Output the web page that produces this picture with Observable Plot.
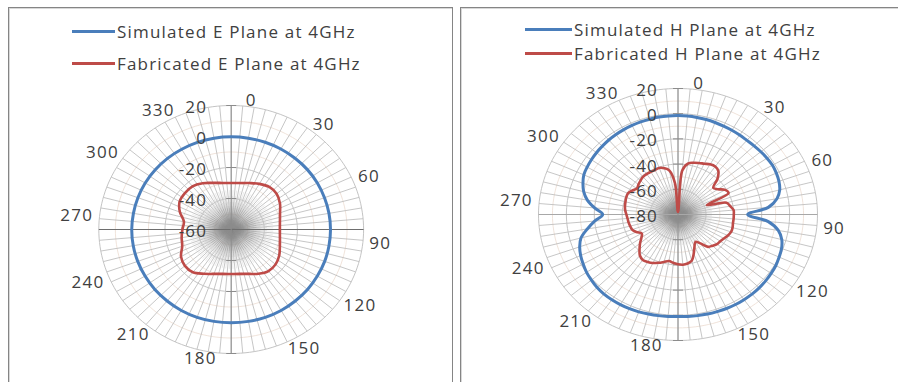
<!DOCTYPE html>
<html>
<head>
<meta charset="utf-8">
<script src="https://cdn.jsdelivr.net/npm/d3@7"></script>
<script src="https://cdn.jsdelivr.net/npm/@observablehq/plot@0.6"></script>
<style>
  html, body { margin: 0; padding: 0; background: #fff; }
  body { width: 898px; height: 382px; overflow: hidden; position: relative; font-family: "Open Sans", sans-serif; }
  .panel { position: absolute; top: 7px; height: 392px; border: 1px solid #858585; box-sizing: border-box; box-shadow: inset 1px 1px 0 #d8d8d8; background: #fff; }
  .leg { position: absolute; display: flex; align-items: center; height: 20px; font-size: 17px; letter-spacing: 1.2px; color: #404040; white-space: nowrap; }
  .sw { display: inline-block; height: 3px; margin-right: 2px; }
  .chart { position: absolute; top: 80px; }
  .chart svg { display: block; overflow: visible; }
</style>
</head>
<body>
<div class="panel" style="left:8px;width:445px"></div>
<div class="panel" style="left:460px;width:445px"></div>
<div id="legE1" class="leg" style="left:72px;top:21px"></div>
<div id="legE2" class="leg" style="left:72px;top:53px"></div>
<div id="legH1" class="leg" style="left:525px;top:19px"></div>
<div id="legH2" class="leg" style="left:525px;top:43px"></div>
<div id="chartE" class="chart" style="left:9px"></div>
<div id="chartH" class="chart" style="left:461px"></div>
<script>
// ---------- data ----------
const ANGLE_TICKS = [0, 30, 60, 90, 120, 150, 180, 210, 240, 270, 300, 330];
const E_RTICKS = [20, 0, -20, -40, -60];
const H_RTICKS = [20, 0, -20, -40, -60, -80];

const E_ANGLES = [0,10,20,30,40,50,60,70,80,90,100,110,120,130,140,150,160,170,
                  180,190,200,210,220,230,240,250,260,270,280,290,300,310,320,330,340,350];
const E_SIM = [-0.2,-0.2,-0.1,0,0,0.1,0.1,0,0,0,0,0.1,0.1,0.2,0.2,0.3,0.3,0.2,
               0.2,0.2,0.3,0.3,0.2,0.2,0.1,0.1,0.1,0.1,0,0,0,-0.1,-0.1,-0.2,-0.2,-0.2];
const E_FAB = [-30,-29.5,-28.1,-26,-24.2,-24.2,-26,-28.6,-30.1,-30.6,-30.1,-28.7,-26.5,-25,-25,-27,-29.5,-30.9,
               -31.3,-30.9,-29.5,-27,-24,-23.5,-25,-28.5,-29.6,-30.5,-31,-27,-24,-23.5,-23.6,-25.5,-28,-29.5];

const H_ANGLES = [0,5,10,15,20,25,30,35,40,45,50,55,60,65,70,75,80,85,
                  90,95,100,105,110,115,120,125,130,135,140,145,150,155,160,165,170,175,
                  180,185,190,195,200,205,210,215,220,225,230,235,240,245,250,255,260,265,
                  270,275,280,285,290,295,300,305,310,315,320,325,330,335,340,345,350,355];
const H_SIM = [-1.5,-1.6,-1.8,-2,-2.3,-2.6,-2.8,-3,-3.2,-2.9,-2.5,-2.1,-1.8,-2.2,-3,-4.5,-8,-15,
               -30,-15,-7,-3,-1,0,1,1.5,2,2.3,2.5,2.5,2.5,2.3,2,1.8,1.5,1.2,
               1,1.2,1.5,1.8,2.2,2.4,2.6,2.6,2.5,2,1,0,-1.5,-3,-5,-8,-14,-20,
               -26,-20,-14,-10,-7.5,-5.5,-4.8,-4.2,-3.7,-3.3,-2.8,-2.5,-2.2,-2,-1.8,-1.7,-1.5,-1.5];
const H_FAB = [-78,-45,-39,-37.5,-36.5,-35.5,-34,-33.5,-35,-40,-47,-45,-41,-40,-58,-44,-42,-40,
               -40,-40,-40,-39.5,-39.5,-40.5,-42,-43,-43.5,-45,-46.5,-52,-55,-52,-47,-42,-40.5,-40,
               -40.5,-41.5,-42.5,-41,-39.2,-37.5,-36.5,-36,-37.5,-41,-44.5,-48,-50,-47,-45,-44.5,-44,-43.7,
               -43,-42,-41.4,-41,-40.5,-40.4,-42,-44,-43,-42,-41,-40.8,-41,-41,-40.7,-42,-44.6,-55];

const BLUE = "#4A7EBB", RED = "#BE4B48";
const FONT = "'Open Sans', sans-serif";

// ---------- legends ----------
function legend(id, color, w, label) {
  const el = document.getElementById(id);
  const sw = document.createElement("span");
  sw.className = "sw"; sw.style.width = w + "px"; sw.style.background = color;
  el.appendChild(sw);
  el.appendChild(document.createTextNode(label));
}
legend("legE1", BLUE, 43, "Simulated E Plane at 4GHz");
legend("legE2", RED, 43, "Fabricated E Plane at 4GHz");
legend("legH1", BLUE, 47, "Simulated H Plane at 4GHz");
legend("legH2", RED, 47, "Fabricated H Plane at 4GHz");

// ---------- polar panel ----------
function polarPanel(o) {
  const R = o.rmax - o.rmin;
  const rad = a => a * Math.PI / 180;
  const P = (a, v) => ({x: (v - o.rmin) * Math.sin(rad(a)), y: (v - o.rmin) * Math.cos(rad(a))});
  const kx = o.rx / R; // px per unit

  // grid rings
  const ringVals = o.rticks.filter(v => v > o.rmin);
  const ringPts = [];
  for (const v of ringVals) for (let a = 0; a <= 360; a += 2) ringPts.push({...P(a, v), v});
  const minorVals = ringVals.map(v => v - 10).filter(v => v > o.rmin);
  const minorPts = [];
  for (const v of minorVals) for (let a = 0; a <= 360; a += 2) minorPts.push({...P(a, v), v});

  // spokes (every 5 deg) and dense inner spokes of mixed length that build the soft grey hub
  const spokes = d3.range(0, 360, 5).map(a => ({a, ...P(a, o.rmax)}));
  const hubLens = [0.15, 0.55, 0.3, 0.85, 0.45, 1.0, 0.25, 0.7, 0.4, 0.6];
  const hub = d3.range(0, 360, 0.5).map((a, i) => ({a, ...P(a, o.rmin + o.hub * hubLens[i % hubLens.length] / kx)}));

  // series
  const series = o.series.map(s => s.values.map((v, i) => ({...P(o.angles[i], v), name: s.name})));

  // angle labels
  const off = o.labelPad / kx;
  const lab = ANGLE_TICKS.map(a => ({a, ...P(a + 6, o.rmax + off)}));

  // radial labels + ticks
  const rl = o.rticks.map(v => ({v, x: -o.rlabDx / kx, y: v - o.rmin}));
  const th = 5 / kx;
  const tk = [];
  for (const v of o.rticks.filter(v => v > o.rmin)) {
    tk.push({x1: -th, x2: th, y: v - o.rmin});
    tk.push({x1: -th, x2: th, y: -(v - o.rmin)});
  }

  return Plot.plot({
    width: o.width, height: o.height, margin: 0,
    style: {fontFamily: FONT, fontSize: "17px", color: "#404040", background: "transparent", overflow: "visible"},
    x: {domain: [-R, R], range: [o.cx - o.rx, o.cx + o.rx], axis: null},
    y: {domain: [-R, R], range: [o.cy + o.ry, o.cy - o.ry], axis: null},
    marks: [
      Plot.line(minorPts, {x: "x", y: "y", z: "v", stroke: "#ecdcd0", strokeWidth: 0.8}),
      Plot.link(spokes, {x1: 0, y1: 0, x2: "x", y2: "y", stroke: "#b8b8b8", strokeWidth: 0.8}),
      Plot.link(hub, {x1: 0, y1: 0, x2: "x", y2: "y", stroke: "#8a8a8a", strokeWidth: 0.5, strokeOpacity: 0.35}),
      Plot.line(ringPts, {x: "x", y: "y", z: "v", stroke: "#c4c4c4", strokeWidth: 1}),
      Plot.link([{x1: -R, x2: R}], {x1: "x1", x2: "x2", y1: 0, y2: 0, stroke: o.hAxis, strokeWidth: 1}),
      Plot.link([{y1: -R, y2: R}], {x1: 0, x2: 0, y1: "y1", y2: "y2", stroke: "#8c8c8c", strokeWidth: 1}),
      Plot.link(tk, {x1: "x1", x2: "x2", y1: "y", y2: "y", stroke: "#8c8c8c", strokeWidth: 1}),
      ...series.map((s, i) => Plot.line(s, {x: "x", y: "y", curve: "catmull-rom-closed",
        stroke: o.series[i].color, strokeWidth: o.series[i].width})),
      Plot.text(lab.filter(d => d.a < 180), {x: "x", y: "y", text: d => String(d.a), textAnchor: "start", fill: "#404040", fontSize: 17}),
      Plot.text(lab.filter(d => d.a >= 180), {x: "x", y: "y", text: d => String(d.a), textAnchor: "end", fill: "#404040", fontSize: 17}),
      Plot.text(rl, {x: "x", y: "y", text: d => String(d.v), textAnchor: "end", dy: 2, fill: "#404040", fontSize: 17})
    ]
  });
}

const svgE = polarPanel({
  width: 442, height: 302, rmin: -60, rmax: 20, rticks: E_RTICKS,
  cx: 221.7, cy: 149, rx: 132.4, ry: 124, labelPad: 6.5, rlabDx: 24, hAxis: "#6e6e6e", hub: 42,
  angles: E_ANGLES,
  series: [
    {name: "Simulated E Plane at 4GHz", values: E_SIM, color: BLUE, width: 3},
    {name: "Fabricated E Plane at 4GHz", values: E_FAB, color: RED, width: 2.6}
  ]
});
document.getElementById("chartE").appendChild(svgE);

const svgH = polarPanel({
  width: 437, height: 302, rmin: -80, rmax: 20, rticks: H_RTICKS,
  cx: 216.5, cy: 134, rx: 139.5, ry: 126, labelPad: 6.5, rlabDx: 20, hAxis: "#a8a8a8", hub: 34,
  angles: H_ANGLES,
  series: [
    {name: "Simulated H Plane at 4GHz", values: H_SIM, color: BLUE, width: 3},
    {name: "Fabricated H Plane at 4GHz", values: H_FAB, color: RED, width: 2.6}
  ]
});
document.getElementById("chartH").appendChild(svgH);

// letter spacing for all svg text to mimic the stretched reference
document.querySelectorAll(".chart text").forEach(t => t.setAttribute("letter-spacing", "1.2"));
</script>
</body>
</html>
